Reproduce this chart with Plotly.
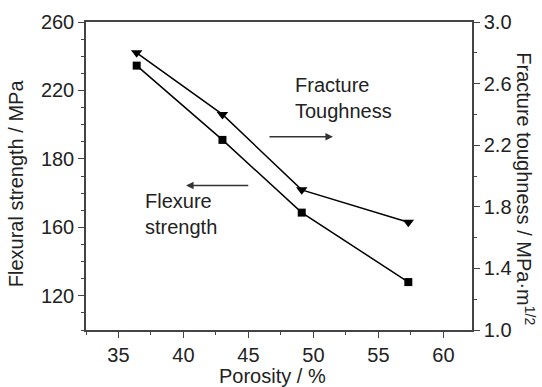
import plotly.graph_objects as go

porosity = [36.4, 43.0, 49.1, 57.3]
flexural_strength = [234.5, 191.1, 148.6, 108.0]
fracture_toughness = [2.80, 2.40, 1.91, 1.70]

x_ticks = [35, 40, 45, 50, 55, 60]
left_tickvals = [100, 140, 180, 220, 260]
left_ticktext = ["120", "160", "180", "220", "260"]
right_ticks = [1.0, 1.4, 1.8, 2.2, 2.6, 3.0]

FONT = "Liberation Sans, Arial, sans-serif"
TXT = "#222222"
AX = "#444444"
FS = 20

fig = go.Figure()
fig.add_trace(go.Scatter(
    x=porosity, y=flexural_strength, mode="lines+markers",
    line=dict(color="black", width=1.5),
    marker=dict(symbol="square", size=8, color="black"),
    name="Flexural strength", yaxis="y"))
fig.add_trace(go.Scatter(
    x=porosity, y=fracture_toughness, mode="lines+markers",
    line=dict(color="black", width=1.5),
    marker=dict(symbol="triangle-down", size=10, color="black"),
    name="Fracture toughness", yaxis="y2"))

axis_common = dict(showline=True, linecolor=AX, linewidth=1.5, ticks="outside",
                   ticklen=6, tickwidth=1.2, tickcolor=AX, showgrid=False, zeroline=False,
                   tickfont=dict(family=FONT, size=FS, color=TXT))

fig.update_layout(
    width=542, height=387,
    margin=dict(l=86, r=70, t=22, b=57),
    paper_bgcolor="white", plot_bgcolor="white",
    showlegend=False,
    font=dict(family=FONT, size=FS, color=TXT),
    xaxis=dict(range=[32.5, 62.2], tickvals=x_ticks, mirror=True,
               minor=dict(dtick=2.5, ticklen=3, tickcolor=AX, ticks="outside", tick0=0),
               **axis_common),
    yaxis=dict(range=[80, 260], tickvals=left_tickvals, ticktext=left_ticktext,
               minor=dict(dtick=10, tick0=0, ticklen=3, tickcolor=AX, ticks="outside"),
               **axis_common),
    yaxis2=dict(range=[1.0, 3.0], tickvals=right_ticks, tickformat=".1f",
                overlaying="y", side="right",
                minor=dict(dtick=0.2, tick0=0, ticklen=3, tickcolor=AX, ticks="outside"),
                **axis_common),
)

annotations = [
    dict(xref="paper", yref="paper", x=0.483, y=-0.148, text="Porosity / %",
         showarrow=False, xanchor="center", yanchor="middle"),
    dict(xref="paper", yref="paper", x=-0.181, y=0.477, text="Flexural strength / MPa",
         showarrow=False, textangle=-90, xanchor="center", yanchor="middle"),
    dict(xref="paper", yref="paper", x=1.14, y=0.46,
         text="Fracture toughness / MPa·m<sup>1/2</sup>",
         showarrow=False, textangle=90, xanchor="center", yanchor="middle"),
    dict(xref="x", yref="y", x=48.44, y=215.6, text="Fracture<br>Toughness",
         showarrow=False, xanchor="left", yanchor="middle", align="left"),
    dict(xref="x", yref="y", x=36.9, y=148, text="Flexure<br>strength",
         showarrow=False, xanchor="left", yanchor="middle", align="left"),
    dict(xref="x", yref="y", axref="x", ayref="y", x=51.5, y=193, ax=46.5, ay=193,
         text="", showarrow=True, arrowhead=2, arrowsize=1, arrowwidth=1.5, arrowcolor="#333333"),
    dict(xref="x", yref="y", axref="x", ayref="y", x=40.2, y=164.4, ax=45.1, ay=164.4,
         text="", showarrow=True, arrowhead=2, arrowsize=1, arrowwidth=1.5, arrowcolor="#333333"),
]
fig.update_layout(annotations=annotations)

fig.write_html("out.html")
